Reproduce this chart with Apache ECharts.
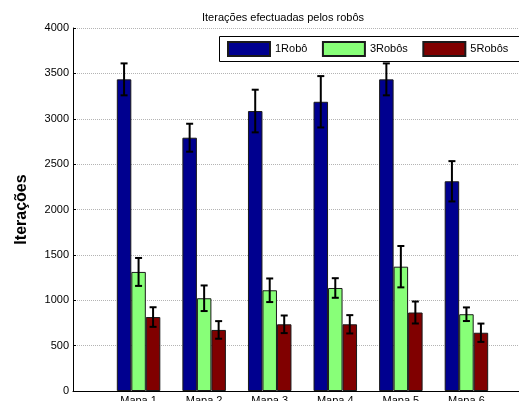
<!DOCTYPE html>
<html>
<head>
<meta charset="utf-8">
<script src="https://cdn.jsdelivr.net/npm/echarts@6/dist/echarts.min.js"></script>
<style>
  html, body { margin: 0; padding: 0; background: #fff; }
  #chart { width: 519px; height: 401px; }
</style>
</head>
<body>
<div id="chart"></div>
<script>
// Maps tested and iteration counts (mean and error) per team size
const categories = ['Mapa 1', 'Mapa 2', 'Mapa 3', 'Mapa 4', 'Mapa 5', 'Mapa 6'];
const seriesNames = ['1Robô', '3Robôs', '5Robôs'];
const oneRobot = [3434, 2791, 3085, 3187, 3434, 2311];
const oneRobotErr = [176, 154, 235, 283, 176, 222];
const threeRobots = [1312, 1022, 1110, 1135, 1370, 846];
const threeRobotsErr = [154, 141, 130, 108, 228, 75];
const fiveRobots = [815, 673, 735, 735, 865, 642];
const fiveRobotsErr = [108, 97, 97, 101, 121, 101];
const yTicks = [0, 500, 1000, 1500, 2000, 2500, 3000, 3500, 4000];

const colors = ['#00008F', '#88FF78', '#800000'];
const values = [oneRobot, threeRobots, fiveRobots];
const errors = [oneRobotErr, threeRobotsErr, fiveRobotsErr];
const BAR_W = 14.5;
const FONT = 'Liberation Sans, Arial, sans-serif';

const chart = echarts.init(document.getElementById('chart'), null, { renderer: 'canvas' });

const barSeries = values.map((vals, s) => ({
  name: seriesNames[s],
  type: 'bar',
  barWidth: BAR_W,
  barGap: '0%',
  data: vals.map((v, i) => [i + 1, v]),
  itemStyle: { color: colors[s], borderColor: '#1a1a1a', borderWidth: 1 },
  emphasis: { disabled: true },
  z: 2
}));

const errSeries = values.map((vals, s) => ({
  type: 'custom',
  data: vals.map((v, i) => [i + 1, v - errors[s][i], v + errors[s][i]]),
  z: 5,
  silent: true,
  renderItem: function (params, api) {
    const x = api.value(0);
    const top = api.coord([x, api.value(2)]);
    const bot = api.coord([x, api.value(1)]);
    const cx = top[0] + (s - 1) * BAR_W;
    const cap = 3.5;
    const st = { stroke: '#000', lineWidth: 2 };
    return {
      type: 'group',
      children: [
        { type: 'line', shape: { x1: cx, y1: top[1], x2: cx, y2: bot[1] }, style: st },
        { type: 'line', shape: { x1: cx - cap, y1: top[1], x2: cx + cap, y2: top[1] }, style: st },
        { type: 'line', shape: { x1: cx - cap, y1: bot[1], x2: cx + cap, y2: bot[1] }, style: st }
      ]
    };
  }
}));

chart.setOption({
  animation: false,
  backgroundColor: '#fff',
  textStyle: { fontFamily: FONT },
  title: {
    text: 'Iterações efectuadas pelos robôs',
    left: 197,
    top: 7,
    textStyle: { fontFamily: FONT, fontSize: 11, fontWeight: 'normal', color: '#000' }
  },
  // legend frame runs on past the right edge of the canvas
  graphic: [{
    type: 'rect',
    left: 219,
    top: 36,
    z: 50,
    shape: { width: 330, height: 25 },
    style: { fill: '#fff', stroke: '#000', lineWidth: 1 }
  }],
  legend: {
    data: seriesNames,
    left: 219,
    top: 36,
    width: 340,
    orient: 'horizontal',
    itemWidth: 42,
    itemHeight: 14,
    itemGap: 14.5,
    padding: [5, 10, 5, 8],
    icon: 'rect',
    selectedMode: false,
    textStyle: { fontFamily: FONT, fontSize: 11, color: '#000' },
    z: 60
  },
  grid: { left: 73, top: 28, width: 459, bottom: 10, containLabel: false, outerBoundsMode: 'none' },
  xAxis: {
    type: 'value',
    min: 0,
    max: 7,
    interval: 1,
    axisLine: { show: true, lineStyle: { color: '#000', width: 1 } },
    axisTick: { show: true, inside: true, length: 3, lineStyle: { color: '#000' } },
    splitLine: { show: false },
    axisLabel: {
      margin: 4,
      fontSize: 11,
      color: '#000',
      fontFamily: FONT,
      formatter: v => (v >= 1 && v <= categories.length) ? categories[v - 1] : ''
    }
  },
  yAxis: {
    type: 'value',
    min: yTicks[0],
    max: yTicks[yTicks.length - 1],
    interval: yTicks[1] - yTicks[0],
    name: 'Iterações',
    nameLocation: 'middle',
    nameGap: 43,
    nameTextStyle: { fontFamily: FONT, fontSize: 16, fontWeight: 'bold', color: '#000' },
    axisLine: { show: true, lineStyle: { color: '#000', width: 1 } },
    axisTick: { show: true, inside: true, length: 3, lineStyle: { color: '#000' } },
    axisLabel: { margin: 4, fontSize: 11, color: '#000', fontFamily: FONT, formatter: v => String(v) },
    splitLine: { show: true, lineStyle: { color: '#b4b4b4', type: [1, 1], width: 1 } }
  },
  series: barSeries.concat(errSeries)
});
</script>
</body>
</html>
